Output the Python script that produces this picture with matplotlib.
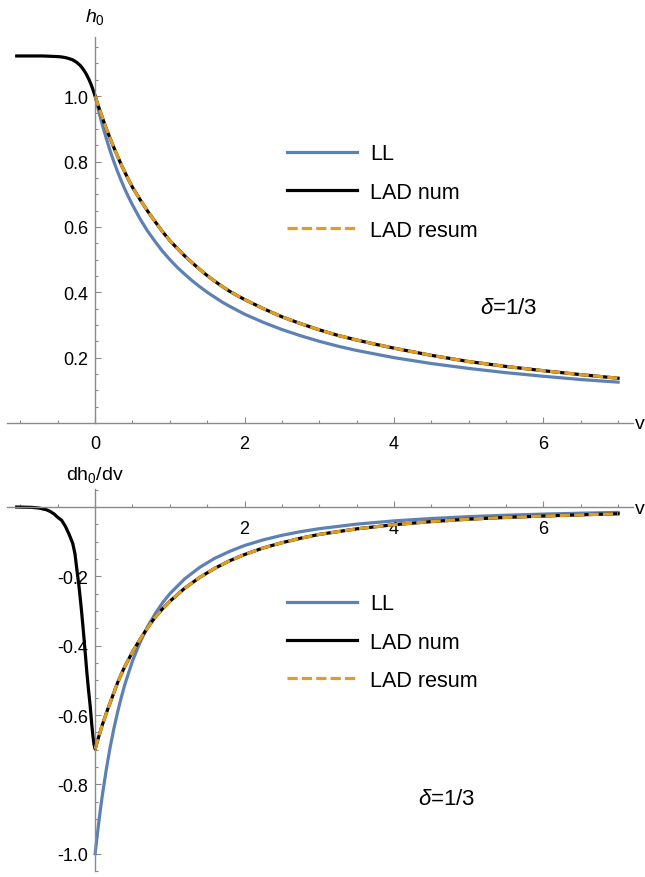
import matplotlib
matplotlib.use("Agg")
import matplotlib.pyplot as plt
from matplotlib.ticker import MultipleLocator

plt.rcParams["font.family"] = ["Liberation Sans", "DejaVu Sans"]
plt.rcParams["mathtext.fontset"] = "custom"
plt.rcParams["mathtext.rm"] = "Liberation Sans"
plt.rcParams["mathtext.it"] = "Liberation Sans:italic"

# --- top panel: h0(v) ---
v_ll = [0, 0.05, 0.1, 0.15, 0.2, 0.25, 0.3, 0.35, 0.4, 0.45, 0.5, 0.6, 0.7, 0.8,
        0.9, 1.0, 1.1, 1.2, 1.3, 1.4, 1.5, 1.6, 1.7, 1.8, 1.9, 2.0, 2.25, 2.5,
        2.75, 3.0, 3.25, 3.5, 3.75, 4.0, 4.5, 5.0, 5.5, 6.0, 6.5, 7.0]
h_ll = [1.0, 0.952, 0.909, 0.870, 0.833, 0.800, 0.769, 0.741, 0.714, 0.690,
        0.667, 0.625, 0.588, 0.556, 0.526, 0.5, 0.476, 0.455, 0.435, 0.417, 0.4,
        0.385, 0.370, 0.357, 0.345, 0.333, 0.308, 0.286, 0.267, 0.25, 0.235,
        0.222, 0.211, 0.2, 0.182, 0.167, 0.154, 0.143, 0.133, 0.125]

v_lad = [-1.05, -0.9, -0.8, -0.7, -0.6, -0.5, -0.45, -0.4, -0.35, -0.3, -0.25,
         -0.2, -0.175, -0.15, -0.125, -0.1, -0.075, -0.05, -0.025,
         0, 0.05, 0.1, 0.15, 0.2, 0.25, 0.3, 0.35, 0.4, 0.45, 0.5, 0.6, 0.7, 0.8,
         0.9, 1.0, 1.1, 1.2, 1.3, 1.4, 1.5, 1.6, 1.7, 1.8, 1.9, 2.0, 2.25, 2.5,
         2.75, 3.0, 3.25, 3.5, 3.75, 4.0, 4.5, 5.0, 5.5, 6.0, 6.5, 7.0]
h_lad = [1.123, 1.123, 1.123, 1.123, 1.122, 1.121, 1.120, 1.118, 1.115, 1.111,
         1.104, 1.094, 1.087, 1.079, 1.070, 1.059, 1.047, 1.033, 1.017,
         1.0, 0.965, 0.932, 0.900, 0.871, 0.843, 0.816, 0.790, 0.766, 0.743,
         0.721, 0.684, 0.649, 0.617, 0.586, 0.558, 0.534, 0.511, 0.490, 0.470,
         0.451, 0.434, 0.418, 0.403, 0.390, 0.378, 0.350, 0.325, 0.304, 0.285,
         0.268, 0.254, 0.241, 0.229, 0.207, 0.188, 0.173, 0.160, 0.148, 0.137]

# --- bottom panel: dh0/dv ---
v_dll = [0, 0.025, 0.05, 0.075, 0.1, 0.15, 0.2, 0.25, 0.3, 0.35, 0.4, 0.5, 0.6,
         0.7, 0.8, 0.9, 1.0, 1.2, 1.4, 1.6, 1.8, 2.0, 2.25, 2.5, 2.75, 3.0, 3.5,
         4.0, 4.5, 5.0, 5.5, 6.0, 6.5, 7.0]
d_ll = [-1.0, -0.952, -0.907, -0.865, -0.826, -0.756, -0.694, -0.640, -0.592,
        -0.549, -0.510, -0.444, -0.391, -0.346, -0.309, -0.277, -0.250, -0.207,
        -0.174, -0.148, -0.128, -0.111, -0.0947, -0.0816, -0.0711, -0.0625,
        -0.0494, -0.040, -0.0331, -0.0278, -0.0237, -0.0204, -0.0178, -0.0156]

v_dlad = [-1.05, -0.95, -0.85, -0.75, -0.65, -0.6, -0.55, -0.5, -0.45, -0.4,
          -0.35, -0.3, -0.27, -0.245, -0.22, -0.2, -0.18, -0.156, -0.133, -0.111,
          -0.09, -0.067, -0.045, -0.03, -0.015,
          0, 0.025, 0.05, 0.075, 0.1, 0.15, 0.2, 0.25, 0.3, 0.35, 0.4, 0.5, 0.6,
          0.7, 0.8, 0.9, 1.0, 1.2, 1.4, 1.6, 1.8, 2.0, 2.25, 2.5, 2.75, 3.0, 3.5,
          4.0, 4.5, 5.0, 5.5, 6.0, 6.5, 7.0]
d_lad = [0.0, -0.0005, -0.001, -0.003, -0.008, -0.013, -0.020, -0.030, -0.038,
         -0.055, -0.078, -0.105, -0.135, -0.180, -0.222, -0.262, -0.305, -0.362,
         -0.420, -0.477, -0.525, -0.573, -0.628, -0.660, -0.685,
         -0.698, -0.679, -0.661, -0.643, -0.626, -0.594, -0.565, -0.536, -0.507,
         -0.482, -0.459, -0.418, -0.382, -0.349, -0.319, -0.294, -0.272, -0.234,
         -0.203, -0.177, -0.155, -0.137, -0.118, -0.103, -0.090, -0.079, -0.063,
         -0.051, -0.042, -0.035, -0.030, -0.026, -0.0225, -0.0195]

top_yticks = [0.2, 0.4, 0.6, 0.8, 1.0]
top_ylabels = ["0.2", "0.4", "0.6", "0.8", "1.0"]
bot_yticks = [-0.2, -0.4, -0.6, -0.8, -1.0]
bot_ylabels = ["-0.2", "-0.4", "-0.6", "-0.8", "-1.0"]

BLUE = "#5E81B5"
ORANGE = "#E19C24"
AXIS = "#8a8a8a"
W, H = 645, 878


def style(ax, xticks, xlabels, yticks, ylabels):
    for s in ("top", "right"):
        ax.spines[s].set_visible(False)
    ax.spines["left"].set_position(("data", 0))
    ax.spines["bottom"].set_position(("data", 0))
    for s in ("left", "bottom"):
        ax.spines[s].set_color(AXIS)
        ax.spines[s].set_linewidth(1.0)
    ax.set_xticks(xticks)
    ax.set_xticklabels(xlabels)
    ax.set_yticks(yticks)
    ax.set_yticklabels(ylabels)
    ax.xaxis.set_minor_locator(MultipleLocator(0.5))
    ax.yaxis.set_minor_locator(MultipleLocator(0.05))
    ax.tick_params(which="both", direction="in", color=AXIS, width=0.8,
                   labelsize=13)
    ax.tick_params(which="major", length=4.5)
    ax.tick_params(which="minor", length=2.5)
    ax.tick_params(axis="x", pad=9)
    ax.tick_params(axis="y", pad=5)
    ax.patch.set_visible(False)


def curves(ax, vl, yl, vn, yn):
    vr = [v for v in vn if v >= 0]
    yr = [y for v, y in zip(vn, yn) if v >= 0]
    ax.plot(vl, yl, color=BLUE, lw=2.3, label="LL")
    ax.plot(vn, yn, color="black", lw=2.3, label="LAD num")
    ax.plot(vr, yr, color=ORANGE, lw=2.3, dashes=(3.2, 1.3), label="LAD resum",
            dash_capstyle="butt")


fig = plt.figure(figsize=(W / 100, H / 100), dpi=100)
ax1 = fig.add_axes([7 / W, 1 - 424 / H, 626 / W, 386 / H])
ax2 = fig.add_axes([7 / W, 1 - 872 / H, 626 / W, 382 / H])

curves(ax1, v_ll, h_ll, v_lad, h_lad)
ax1.set_xlim(-1.18, 7.2)
ax1.set_ylim(0, 1.181)
style(ax1, [0, 2, 4, 6], ["0", "2", "4", "6"], top_yticks, top_ylabels)

curves(ax2, v_dll, d_ll, v_dlad, d_lad)
ax2.set_xlim(-1.18, 7.2)
ax2.set_ylim(-1.050, 0.052)
style(ax2, [2, 4, 6], ["2", "4", "6"], bot_yticks, bot_ylabels)

for ax, ytop in ((ax1, 144.5), (ax2, 594.5)):
    ax.legend(loc="upper left", bbox_to_anchor=(287 / W, 1 - ytop / H),
              bbox_transform=fig.transFigure, frameon=False, fontsize=15.5,
              handlelength=3.25, handletextpad=0.6, labelspacing=0.8,
              borderpad=0, borderaxespad=0)

fig.text(95 / W, 1 - 17 / H, r"$h_0$", fontsize=14, ha="center", va="center")
fig.text(95 / W, 1 - 475 / H, r"dh$_0$/dv", fontsize=14, ha="center", va="center")
fig.text(640 / W, 1 - 425 / H, "v", fontsize=14, ha="center", va="center")
fig.text(640 / W, 1 - 509 / H, "v", fontsize=14, ha="center", va="center")
fig.text(509 / W, 1 - 309 / H, r"$\delta$=1/3", fontsize=16, ha="center", va="center")
fig.text(447 / W, 1 - 800 / H, r"$\delta$=1/3", fontsize=16, ha="center", va="center")

fig.savefig("out.png", dpi=100)
